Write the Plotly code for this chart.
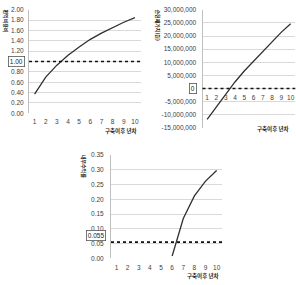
import plotly.graph_objects as go

years = [1, 2, 3, 4, 5, 6, 7, 8, 9, 10]
bc_ratio = [0.37, 0.70, 0.93, 1.12, 1.28, 1.43, 1.55, 1.66, 1.76, 1.85]
npv = [-11800000, -7000000, -2300000, 2500000, 6700000, 10500000, 14200000, 17900000, 21500000, 24700000]
irr = [None, None, None, None, None, 0.008, 0.135, 0.212, 0.262, 0.298]

bc_ref = 1.00
npv_ref = 0
irr_ref = 0.055

bc_ticks = [0.0, 0.2, 0.4, 0.6, 0.8, 1.0, 1.2, 1.4, 1.6, 1.8, 2.0]
npv_ticks = [-15000000, -10000000, -5000000, 0, 5000000, 10000000, 15000000, 20000000, 25000000, 30000000]
irr_ticks = [0.00, 0.05, 0.10, 0.15, 0.20, 0.25, 0.30, 0.35]

W, H = 296, 285
FONT = "Liberation Sans, Arial, sans-serif"
KFONT = "Noto Sans CJK KR, sans-serif"
GRID = "#d9d9d9"
TXT = "#404040"
LINE = "#303030"

def px(x):
    return x / W

def py(y):
    return 1 - y / H

fig = go.Figure()
fig.add_trace(go.Scatter(x=years, y=bc_ratio, mode="lines", line=dict(color=LINE, width=1.3), xaxis="x", yaxis="y", showlegend=False))
fig.add_trace(go.Scatter(x=years, y=npv, mode="lines", line=dict(color=LINE, width=1.3), xaxis="x2", yaxis="y2", showlegend=False))
fig.add_trace(go.Scatter(x=years, y=irr, mode="lines", line=dict(color=LINE, width=1.3), xaxis="x3", yaxis="y3", showlegend=False))

tickfont = dict(family=FONT, size=6.5, color=TXT)

def xax(domain, anchor, ticklen, position=None):
    d = dict(domain=domain, range=[0.5, 10.5], tickvals=years, ticktext=[str(v) for v in years], showgrid=False,
             zeroline=False, showline=False, ticks="outside", ticklen=ticklen, tickcolor="rgba(0,0,0,0)",
             tickfont=tickfont, fixedrange=True, anchor=anchor)
    if position is not None:
        d["position"] = position
    return d

def ylabels(ticks, fmt, hide):
    return [("" if v == hide else fmt(v)) for v in ticks]

fig.update_layout(
    width=W, height=H, margin=dict(l=0, r=0, t=0, b=0),
    paper_bgcolor="white", plot_bgcolor="white",
    xaxis=xax([px(29), px(140.5)], "y", 2),
    yaxis=dict(domain=[py(112), py(6)], range=[0, 2.0], tickvals=bc_ticks,
               ticktext=ylabels(bc_ticks, lambda v: f"{v:.2f}", bc_ref),
               showgrid=True, gridcolor=GRID, gridwidth=1, zeroline=False, showline=True, linecolor="#bfbfbf", linewidth=1,
               ticks="outside", ticklen=3, tickcolor="rgba(0,0,0,0)", tickfont=tickfont, anchor="x"),
    xaxis2=xax([px(202.5), px(295.3)], "free", 3, position=py(86.3)),
    yaxis2=dict(domain=[py(127), py(6)], range=[-15000000, 30000000], tickvals=npv_ticks,
                ticktext=ylabels(npv_ticks, lambda v: f"{v:,}", npv_ref),
                showgrid=True, gridcolor=GRID, gridwidth=1, zeroline=False, showline=True, linecolor="#bfbfbf", linewidth=1,
                ticks="outside", ticklen=4, tickcolor="rgba(0,0,0,0)", tickfont=tickfont, anchor="x2"),
    xaxis3=xax([px(111), px(222.2)], "y3", 3),
    yaxis3=dict(domain=[py(260.7), py(155)], range=[0, 0.35], tickvals=irr_ticks, ticktext=[f"{v:.2f}" for v in irr_ticks],
                showgrid=True, gridcolor=GRID, gridwidth=1, zeroline=False, showline=True, linecolor="#bfbfbf", linewidth=1,
                ticks="outside", ticklen=5, tickcolor="rgba(0,0,0,0)", tickfont=tickfont, anchor="x3"),
)

# reference dotted lines
for xr, yr, val in [("x domain", "y", bc_ref), ("x2 domain", "y2", npv_ref), ("x3 domain", "y3", irr_ref)]:
    fig.add_shape(type="line", xref=xr, yref=yr, x0=0, x1=1, y0=val, y1=val,
                  line=dict(color="#111111", width=1.6, dash="dot"))

# boxed reference labels
box = dict(showarrow=False, font=dict(family=FONT, size=6.5, color="#222"), bgcolor="white",
           bordercolor="#555", borderwidth=0.8, borderpad=1)
fig.add_annotation(x=px(25), xref="paper", y=bc_ref, yref="y", text=f"{bc_ref:.2f}", xanchor="right", **box)
fig.add_annotation(x=px(197), xref="paper", y=npv_ref, yref="y2", text=f"{npv_ref}", xanchor="right", **box)
fig.add_annotation(x=px(106), xref="paper", y=irr_ref + 0.003, yref="y3", text=f"{irr_ref:.3f}", xanchor="right",
                   yanchor="bottom", **box)

# axis titles
ttl = dict(showarrow=False, font=dict(family=KFONT, size=5.5, color="#222"), xref="paper", yref="paper")
fig.add_annotation(x=px(139), y=py(130), text="<b>구축이후 년차</b>", xanchor="right", yanchor="middle", **ttl)
fig.add_annotation(x=px(291), y=py(128), text="<b>구축이후 년차</b>", xanchor="right", yanchor="middle", **ttl)
fig.add_annotation(x=px(221), y=py(279), text="<b>구축이후 년차</b>", xanchor="right", yanchor="middle", **ttl)
tt2 = dict(ttl, font=dict(family=KFONT, size=5, color="#222"))
fig.add_annotation(x=px(6), y=py(3), text="<b>편익비용비</b>", textangle=90, xanchor="center", yanchor="top", **tt2)
fig.add_annotation(x=px(158), y=py(3), text="<b>순현재가치(원)</b>", textangle=90, xanchor="center", yanchor="top", **tt2)
fig.add_annotation(x=px(84), y=py(152), text="<b>내부수익률</b>", textangle=90, xanchor="center", yanchor="top", **tt2)

fig.write_html("out.html")
